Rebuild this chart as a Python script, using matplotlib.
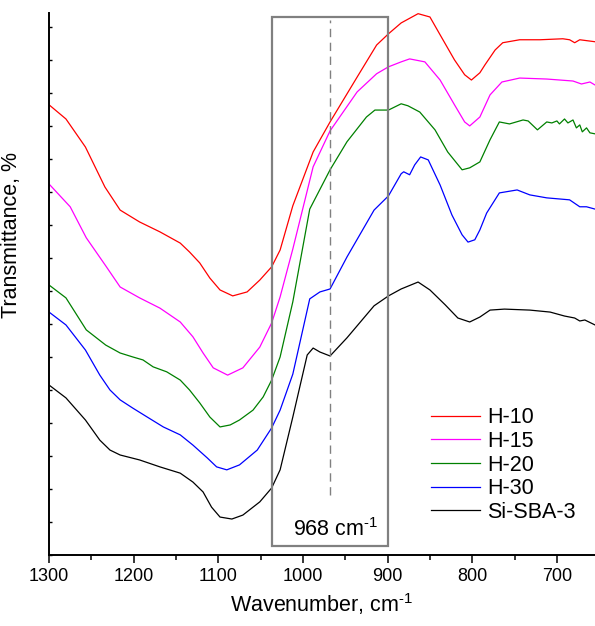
import matplotlib
matplotlib.use("Agg")
import matplotlib.pyplot as plt
from matplotlib.patches import Rectangle
from matplotlib.ticker import MultipleLocator

plt.rcParams["font.family"] = ["Liberation Sans", "DejaVu Sans"]
plt.rcParams["mathtext.fontset"] = "custom"
plt.rcParams["mathtext.rm"] = "Liberation Sans"
plt.rcParams["mathtext.default"] = "regular"

# FTIR spectra (wavenumber, cm-1 / transmittance, a.u.)
wn_h10 = [1300, 1280, 1257, 1234, 1216, 1193, 1169, 1145, 1134, 1122, 1110, 1098,
          1083, 1066, 1051, 1037, 1027, 1012, 988, 968, 936, 913, 899, 884, 864,
          850, 838, 821, 809, 801, 791, 785, 773, 764, 744, 720, 693, 685, 679,
          673, 655]
t_h10 = [13.64, 13.21, 12.36, 11.15, 10.45, 10.09, 9.79, 9.45, 9.18, 8.85, 8.39, 8.03,
         7.85, 7.97, 8.33, 8.73, 9.24, 10.58, 12.21, 13.12, 14.48, 15.45, 15.79, 16.12, 16.40,
         16.30, 15.76, 15.00, 14.55, 14.39, 14.61, 14.85, 15.30, 15.52, 15.61, 15.61, 15.64, 15.61, 15.52,
         15.61, 15.55]

wn_h15 = [1300, 1275, 1256, 1233, 1216, 1193, 1169, 1145, 1130, 1118, 1106, 1089,
          1071, 1051, 1037, 1027, 1012, 988, 968, 936, 913, 899, 884, 874, 856,
          838, 821, 809, 803, 791, 779, 765, 744, 712, 681, 671, 661, 655]
t_h15 = [11.24, 10.55, 9.61, 8.76, 8.12, 7.79, 7.48, 7.06, 6.61, 6.12, 5.67, 5.45,
         5.67, 6.30, 7.03, 7.82, 9.27, 11.76, 12.85, 14.03, 14.58, 14.79, 14.94, 15.03, 14.94,
         14.39, 13.64, 13.12, 13.00, 13.27, 13.94, 14.33, 14.45, 14.42, 14.36, 14.27, 14.33, 14.24]

wn_h20 = [1300, 1280, 1256, 1233, 1216, 1201, 1189, 1177, 1161, 1145, 1134, 1122,
          1110, 1098, 1086, 1075, 1059, 1047, 1037, 1027, 1012, 992, 968, 948, 925,
          915, 899, 884, 876, 862, 844, 829, 812, 803, 791, 779, 768, 756, 740,
          734, 723, 712, 706, 700, 697, 691, 687, 681, 677, 673, 670, 665, 661, 655]
t_h20 = [8.18, 7.79, 6.82, 6.36, 6.12, 6.00, 5.91, 5.70, 5.55, 5.30, 5.00, 4.61,
         4.18, 3.88, 3.94, 4.09, 4.39, 4.79, 5.30, 6.00, 7.67, 10.48, 11.67, 12.52, 13.27,
         13.48, 13.48, 13.67, 13.61, 13.42, 12.88, 12.21, 11.67, 11.73, 11.91, 12.58, 13.12, 13.06, 13.18,
         13.15, 12.88, 13.12, 13.09, 13.15, 13.06, 13.21, 13.09, 13.18, 12.94, 13.03, 12.82, 12.94, 12.79, 12.76]

wn_h30 = [1300, 1280, 1257, 1240, 1228, 1216, 1201, 1184, 1165, 1145, 1130, 1113,
          1102, 1090, 1075, 1054, 1037, 1027, 1012, 992, 980, 968, 948, 916, 899,
          884, 881, 874, 868, 861, 852, 838, 824, 812, 805, 797, 791, 783, 768,
          747, 732, 712, 685, 673, 665, 655]
t_h30 = [7.36, 6.97, 6.21, 5.45, 5.00, 4.70, 4.45, 4.18, 3.88, 3.64, 3.33, 2.94,
         2.67, 2.58, 2.73, 3.18, 3.85, 4.39, 5.48, 7.76, 7.97, 8.06, 9.03, 10.45, 10.88,
         11.55, 11.61, 11.52, 11.82, 12.06, 11.97, 11.21, 10.30, 9.70, 9.48, 9.55, 9.85, 10.36, 10.97,
         11.06, 10.91, 10.82, 10.76, 10.55, 10.55, 10.48]

wn_sba = [1300, 1280, 1257, 1240, 1228, 1216, 1193, 1169, 1145, 1130, 1118, 1108,
          1098, 1084, 1071, 1051, 1037, 1027, 1012, 995, 988, 980, 968, 948, 916,
          899, 884, 864, 850, 832, 817, 803, 791, 779, 762, 732, 708, 691, 679,
          673, 667, 655]
t_sba = [5.15, 4.76, 4.09, 3.48, 3.18, 3.03, 2.88, 2.67, 2.48, 2.21, 1.91, 1.45,
         1.15, 1.09, 1.21, 1.61, 2.03, 2.58, 4.18, 6.06, 6.27, 6.15, 6.03, 6.58, 7.55,
         7.85, 8.06, 8.27, 8.03, 7.58, 7.18, 7.06, 7.21, 7.42, 7.45, 7.42, 7.36, 7.24, 7.18,
         7.09, 7.12, 6.97]

series = [
    ("H-10", wn_h10, t_h10, "#ff0000"),
    ("H-15", wn_h15, t_h15, "#ff00ff"),
    ("H-20", wn_h20, t_h20, "#008000"),
    ("H-30", wn_h30, t_h30, "#0000ff"),
    ("Si-SBA-3", wn_sba, t_sba, "#000000"),
]

band_pos = 968
box_lo, box_hi = 899, 1037

fig = plt.figure(figsize=(5.95, 6.26), dpi=100)
ax = fig.add_axes([0.0824, 0.1134, 0.9176, 0.8658])

for name, wn, t, c in series:
    ax.plot(wn, t, color=c, lw=0.9, label=name)

# highlighted region around the 968 cm-1 band
ax.add_patch(Rectangle((box_hi, 0.27), box_lo - box_hi, 16.03, fill=False,
                       edgecolor="#808080", lw=1.6, clip_on=False, zorder=5))
ax.plot([band_pos, band_pos], [1.82, 16.2], color="#808080", lw=1.0,
        ls=(0, (6, 4)))
ax.text(961, 0.78, r"968 cm$^{\text{-}1}$", fontsize=15.5, ha="center", va="center")

ax.set_xlim(1300, 655)
ax.set_ylim(0, 16.42)
ax.xaxis.set_major_locator(MultipleLocator(100))
ax.xaxis.set_minor_locator(MultipleLocator(50))
ax.yaxis.set_major_locator(MultipleLocator(1))
ax.set_yticklabels([])
ax.tick_params(axis="x", which="major", direction="out", length=6, width=1.1,
               labelsize=13, pad=3)
ax.tick_params(axis="x", which="minor", direction="out", length=3.5, width=1.1)
ax.tick_params(axis="y", which="major", direction="in", length=2.5, width=1.0)

for s in ["top", "right"]:
    ax.spines[s].set_visible(False)
for s in ["left", "bottom"]:
    ax.spines[s].set_linewidth(1.4)

ax.set_xlabel(r"Wavenumber, cm$^{\text{-}1}$", fontsize=15.5, labelpad=5)
ax.set_ylabel("Transmittance, %", fontsize=15.5)
ax.yaxis.set_label_coords(-0.05, 0.59)

ax.legend(loc="center", bbox_to_anchor=(0.832, 0.166), frameon=False,
          fontsize=15.5, handlelength=2.3, handletextpad=0.33, labelspacing=0.12)

plt.savefig("out.png", dpi=100)
